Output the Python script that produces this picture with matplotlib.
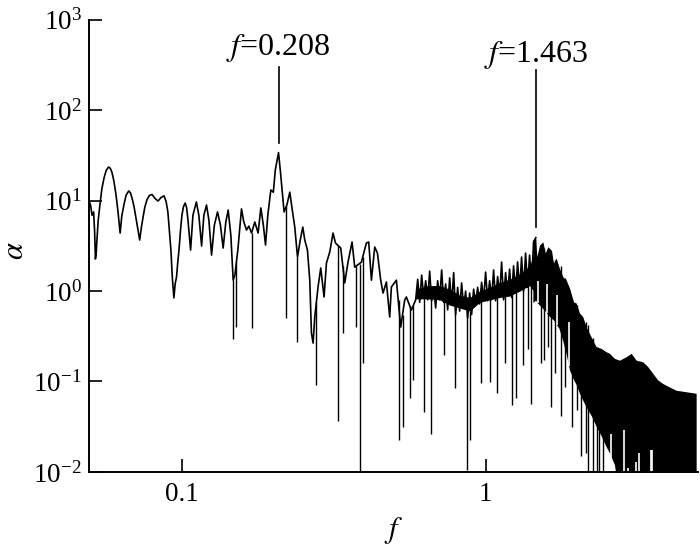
import matplotlib
matplotlib.use('Agg')
import matplotlib.pyplot as plt
from matplotlib.ticker import NullLocator

plt.rcParams['font.family'] = ['Liberation Serif', 'DejaVu Serif']
plt.rcParams['mathtext.fontset'] = 'stix'

# traced spectrum (line part)
freq = [0.0494, 0.0500, 0.0506, 0.0512, 0.0516, 0.0519, 0.0522, 0.0525, 0.0530, 0.0537,
        0.0545, 0.0554, 0.0563, 0.0573, 0.0581, 0.0588, 0.0597, 0.0607, 0.0616, 0.0626,
        0.0634, 0.0644, 0.0655, 0.0668, 0.0677, 0.0685, 0.0696, 0.0706, 0.0716, 0.0726,
        0.0735, 0.0744, 0.0755, 0.0767, 0.0781, 0.0797, 0.0815, 0.0834, 0.0853, 0.0873,
        0.0887, 0.0899, 0.0910, 0.0920, 0.0930, 0.0941, 0.0950, 0.0960, 0.0968, 0.0978,
        0.0990, 0.1000, 0.1012, 0.1025, 0.1036, 0.1047, 0.1068,
        0.1087, 0.1116, 0.1137, 0.1161, 0.1181, 0.1205, 0.1227, 0.1252, 0.1279, 0.1310,
        0.1339, 0.1367, 0.1395, 0.1420, 0.1449, 0.1475, 0.1494, 0.1528, 0.1571, 0.1599,
        0.1632, 0.1661, 0.1695, 0.1738, 0.1782, 0.1819, 0.1854, 0.1885, 0.1918, 0.1962,
        0.2000, 0.2030, 0.2080, 0.2108, 0.2137, 0.2170, 0.2216, 0.2266, 0.2309, 0.2353,
        0.2402, 0.2453, 0.2500, 0.2538, 0.2590, 0.2636, 0.2670, 0.2703, 0.2738, 0.2807,
        0.2865, 0.2938, 0.2991, 0.3067, 0.3145, 0.3203, 0.3334, 0.3437, 0.3523, 0.3632,
        0.3707, 0.3900, 0.4049, 0.4122, 0.4207, 0.4314, 0.4403, 0.4514, 0.4594, 0.4712,
        0.4833, 0.4895, 0.5083, 0.5253, 0.5414, 0.5483, 0.5696,
        0.5885, 0.5975, 0.6066, 0.6158, 0.6253, 0.6348, 0.6445, 0.6543, 0.6643, 0.6745,
        0.6847, 0.6952, 0.7058, 0.7166, 0.7275, 0.7387, 0.7499, 0.7614, 0.7729, 0.7848,
        0.7967, 0.8089, 0.8213, 0.8337, 0.8465, 0.8594, 0.8725, 0.8859, 0.8994, 0.9131,
        0.9271, 0.9413, 0.9557, 0.9701, 0.9849, 1.0000, 1.0153, 1.0308, 1.0464, 1.0624,
        1.0787, 1.0952, 1.1118, 1.1288, 1.1461, 1.1636, 1.1813, 1.1993, 1.2176, 1.2362,
        1.2551, 1.2742, 1.2937, 1.3134, 1.3335, 1.3539, 1.3745, 1.3955, 1.4167, 1.4384,
        1.4630]
alpha = [10.0, 9.0, 6.9, 7.5, 4.5, 2.26, 2.6, 3.67, 6.0, 8.94,
         13.5, 17.8, 21.5, 23.5, 22.8, 20.7, 16.5, 11.5, 7.5, 4.38,
         6.8, 8.94, 11.5, 12.8, 12.2, 10.7, 8.5, 6.42, 4.8, 3.67,
         5.0, 6.42, 8.5, 10.2, 11.4, 11.7, 10.6, 9.9, 10.8, 11.3,
         9.8, 7.5, 4.5, 2.84, 1.4, 0.84, 1.2, 1.43, 2.0, 2.84,
         4.8, 6.9, 8.6, 9.4, 8.4, 6.10, 2.84,
         6.9, 9.67, 6.9, 3.15, 6.9, 8.94, 6.10, 2.50, 5.37, 7.5,
         5.37, 2.99, 5.80, 7.87, 4.16, 1.32, 1.50, 2.84, 8.1, 5.80,
         4.73, 5.23, 4.38, 5.80, 4.38, 8.3, 5.37, 3.23, 6.9, 13.1,
         12.4, 21.8, 34.0, 21.8, 13.1, 7.5, 8.94, 12.4, 7.87, 5.10,
         2.38, 3.67, 5.10, 3.67, 2.84, 1.32, 0.343, 0.266, 0.516, 1.11,
         1.80, 0.86, 2.04, 2.70, 4.38, 3.40, 2.99, 1.23, 2.09, 3.49,
         1.84, 2.09, 3.40, 3.49, 1.32, 3.07, 2.63, 1.32, 0.95, 1.26,
         0.516, 1.11, 1.32, 0.40, 0.795, 0.86, 0.616,
         0.80, 1.35, 0.75, 1.50, 0.85, 1.30, 0.80, 1.66, 0.78, 1.10,
         0.65, 1.30, 0.80, 1.71, 0.75, 1.20, 0.62, 1.40, 0.70, 1.60,
         0.55, 1.10, 0.60, 1.23, 0.65, 1.00, 0.50, 0.95, 0.55, 1.05,
         0.70, 1.10, 0.72, 1.25, 0.80, 1.62, 0.78, 1.30, 0.80, 1.71,
         0.78, 1.45, 0.85, 2.09, 0.80, 1.60, 0.90, 1.75, 0.85, 1.90,
         0.95, 2.10, 1.00, 2.38, 1.00, 2.63, 1.10, 2.50, 1.20, 3.50,
         3.9]

# dark core of the tangled middle part
core_f = [0.5885, 0.6445, 0.7058, 0.7614, 0.8213, 0.8859, 0.9557, 1.0308, 1.1118, 1.1993,
          1.2937, 1.3955, 1.4384]
core_lo = [0.82, 0.82, 0.80, 0.70, 0.65, 0.60, 0.75, 0.80, 0.85, 0.88, 1.0, 1.15, 1.0]
core_hi = [1.05, 1.15, 1.15, 1.05, 0.90, 0.85, 1.00, 1.10, 1.25, 1.35, 1.55, 1.9, 2.5]

# dense part of the spectrum (filled envelope)
band_f = [1.4307, 1.463, 1.4735, 1.5052, 1.5433, 1.5715, 1.603, 1.6446,
          1.6736, 1.7077, 1.7422, 1.7959, 1.8423, 1.8892, 1.9474, 1.9871, 2.0379, 2.0896,
          2.1436, 2.2267, 2.3121, 2.4019, 2.494, 2.5577, 2.6565, 2.7589, 2.902, 3.0145,
          3.130, 3.2914, 3.4188, 3.5503, 3.687, 3.8296, 4.0288, 4.2377, 4.571, 4.934]
band_hi = [3.67, 3.85, 2.40, 3.23, 3.51, 2.63, 3.09, 2.84,
           2.04, 2.32, 1.86, 1.44, 1.32, 1.08, 0.76, 0.737, 0.57, 0.52,
           0.40, 0.31, 0.242, 0.232, 0.213, 0.205, 0.180, 0.172, 0.188, 0.205,
           0.172, 0.165, 0.146, 0.123, 0.104, 0.095, 0.087, 0.080, 0.077, 0.074]
band_lo = [0.75, 0.795, 0.75, 0.70, 0.64, 0.60, 0.55, 0.50,
           0.48, 0.43, 0.39, 0.28, 0.20, 0.134, 0.105, 0.092, 0.074, 0.062,
           0.052, 0.042, 0.032, 0.025, 0.019, 0.0162, 0.012, 0.005, 0.005, 0.005,
           0.005, 0.005, 0.005, 0.005, 0.005, 0.005, 0.005, 0.005, 0.005, 0.005]

# sharp dips
spike_f = [0.1475, 0.1512, 0.1695, 0.2209, 0.2402, 0.2774, 0.3266, 0.3393, 0.3755, 0.3850,
           0.3947, 0.5174, 0.5345, 0.5623, 0.5766, 0.6266, 0.6592, 0.7291, 0.7907, 0.8705,
           0.8858, 0.9628, 1.0306, 1.0925, 1.1548, 1.2241, 1.2614, 1.3264, 1.3775, 1.4134,
           1.5167, 1.5516, 1.603, 1.6446, 1.6863, 1.7649, 1.8192, 1.9283, 1.9922, 2.0643,
           2.1328, 2.170, 2.2488, 2.318, 2.3711, 2.4442]
spike_top = [1.32, 2.1, 4.38, 8.7, 2.38, 0.75, 3.2, 1.9, 1.9, 2.0,
             2.4, 0.8, 0.55, 0.68, 0.7, 1.0, 0.9, 0.8, 0.7, 0.6,
             0.6, 0.8, 0.9, 0.9, 1.0, 1.0, 1.2, 1.2, 1.3, 2.0,
             3.0, 3.0, 2.8, 2.8, 2.2, 1.9, 1.4, 0.8, 0.7, 0.55,
             0.45, 0.42, 0.3, 0.24, 0.23, 0.22]
spike_bot = [0.295, 0.40, 0.39, 0.503, 0.273, 0.091, 0.037, 0.343, 0.40, 0.005,
             0.16, 0.0225, 0.031, 0.066, 0.104, 0.046, 0.026, 0.196, 0.084, 0.0105,
             0.0225, 0.095, 0.099, 0.074, 0.16, 0.055, 0.066, 0.152, 0.23, 0.057,
             0.16, 0.172, 0.24, 0.052, 0.124, 0.041, 0.087, 0.031, 0.048, 0.0149,
             0.0162, 0.005, 0.005, 0.005, 0.005, 0.005]

# white slits inside the dense part
gap_f = [1.4826, 1.5872, 1.712, 1.875, 2.591, 2.850, 2.936, 3.130, 3.210, 3.497, 3.534]
gap_bot = [0.74, 0.57, 0.42, 0.15, 0.005, 0.005, 0.005, 0.005, 0.005, 0.005, 0.005]
gap_top = [1.3, 1.2, 0.9, 0.45, 0.026, 0.029, 0.011, 0.0129, 0.0162, 0.0174, 0.0174]

peaks = [0.208, 1.463]
peak_labels = ['0.208', '1.463']
mark_lo = [43.0, 5.1]
mark_hi = [300.0, 278.0]
text_y = [408.0, 341.0]

fig = plt.figure(figsize=(7, 5.5), dpi=100)
ax = fig.add_axes([0.127, 0.142, 0.870, 0.822])
ax.set_xscale('log')
ax.set_yscale('log')

ax.fill_between(core_f, core_lo, core_hi, color='k', lw=0)
ax.fill_between(band_f, band_lo, band_hi, color='k', lw=0)
ax.plot(freq, alpha, color='k', lw=1.2)
ax.vlines(spike_f, spike_bot, spike_top, color='k', lw=1.0)
ax.vlines(gap_f, gap_bot, gap_top, color='w', lw=1.2)

for p, lab, lo, hi, ty in zip(peaks, peak_labels, mark_lo, mark_hi, text_y):
    ax.plot([p, p], [lo, hi], color='k', lw=1.2)
    ax.text(p, ty, r'$f$=' + lab, ha='center', va='baseline', fontsize=23)

ax.set_xlim(0.0494, 5.0)
ax.set_ylim(0.01, 1000)
ax.set_xticks([0.1, 1])
ax.set_xticklabels(['0.1', '1'])
ax.set_yticks([0.01, 0.1, 1, 10, 100, 1000])
ax.xaxis.set_minor_locator(NullLocator())
ax.yaxis.set_minor_locator(NullLocator())
ax.tick_params(direction='in', length=9.5, width=1.2, labelsize=19.5)
ax.tick_params(axis='x', pad=7)
ax.tick_params(axis='y', pad=5)

for s in ['top', 'right']:
    ax.spines[s].set_visible(False)
for s in ['left', 'bottom']:
    ax.spines[s].set_linewidth(1.4)

ax.set_xlabel(r'$f$', fontsize=22, labelpad=6)
ax.set_ylabel(r'$\alpha$', fontsize=22)
ax.yaxis.set_label_coords(-0.097, 0.49)

fig.savefig('out.png', dpi=100)
